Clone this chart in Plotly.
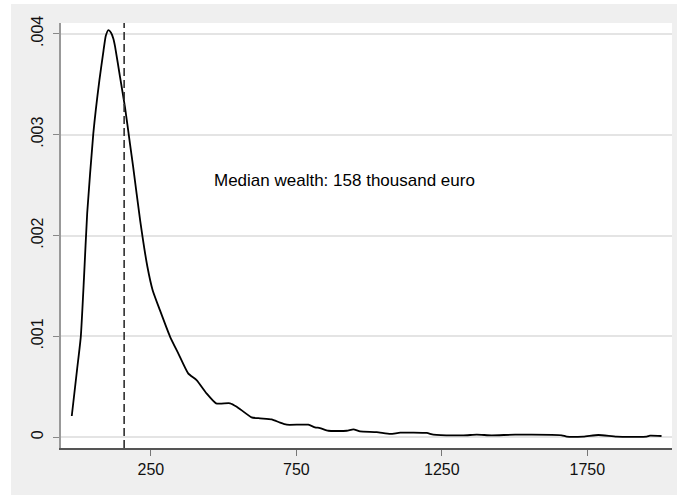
import plotly.graph_objects as go

# Kernel density of net wealth (thousand euro)
wealth = [-22, -4, 9, 20, 31, 52, 73, 87, 95, 104, 113, 121, 127, 144, 161, 178, 189,
          213, 238, 256, 281, 316, 344, 378, 407, 441, 474, 522, 545, 596, 625,
          665, 694, 717, 791, 814, 831, 860, 923, 946, 969, 1026, 1073, 1107,
          1198, 1221, 1324, 1370, 1421, 1502, 1662, 1679, 1736, 1788, 1851,
          1954, 1965, 2005]
density = [0.000211, 0.000666, 0.000996, 0.00158, 0.00222, 0.00301, 0.00354,
           0.00383, 0.00398, 0.004036, 0.00401, 0.00395, 0.00387, 0.00357, 0.00327,
           0.00291, 0.00268, 0.00215, 0.00169, 0.001458, 0.00126, 0.000996,
           0.000832, 0.000634, 0.000567, 0.000436, 0.000337, 0.000337,
           0.000303, 0.000198, 0.000188, 0.000178, 0.000145, 0.000125,
           0.000125, 0.000099, 0.000092, 0.000065, 0.000065, 0.000079,
           0.000059, 0.000052, 0.000033, 0.000046, 0.000043, 0.000026,
           0.00002, 0.000026, 0.00002, 0.000026, 0.00002, 0.000007, 0.000007,
           0.000023, 0.000007, 0.000007, 0.000016, 0.000013]

median_wealth = 158
annotation_text = "Median wealth: 158 thousand euro"

x_tickvals = [250, 750, 1250, 1750]
x_ticktext = ["250", "750", "1250", "1750"]
y_tickvals = [0, 0.001, 0.002, 0.003, 0.004]
y_ticktext = ["0", ".001", ".002", ".003", ".004"]

fig = go.Figure()
fig.add_trace(go.Scatter(
    x=wealth, y=density, mode="lines",
    line=dict(color="#000000", width=1.8, shape="spline", smoothing=0.5),
    showlegend=False, hoverinfo="skip"))

# dashed median line
fig.add_shape(type="line", xref="x", yref="paper", x0=median_wealth, x1=median_wealth,
              y0=0, y1=1, line=dict(color="#2e2e2e", width=1.6, dash="8px,4px"))

fig.add_annotation(x=461, y=0.002548, xref="x", yref="y", text=annotation_text,
                   showarrow=False, xanchor="left", yanchor="middle",
                   font=dict(family="Liberation Sans, Arial", size=17, color="#000000"))

# white strips at the left and top edges of the picture
fig.add_shape(type="rect", xref="paper", yref="paper", x0=-61/611, x1=-50/611,
              y0=-1, y1=2, fillcolor="white", line=dict(width=0), layer="below")
fig.add_shape(type="rect", xref="paper", yref="paper", x0=-1, x1=2,
              y0=1 + 19/425, y1=1 + 30/425, fillcolor="white", line=dict(width=0), layer="below")

fig.update_layout(
    width=677, height=495,
    margin=dict(l=61, r=5, t=23, b=47),
    paper_bgcolor="#efefef", plot_bgcolor="white",
    font=dict(family="Liberation Sans, Arial", size=16, color="#111111"),
    xaxis=dict(range=[-59, 2041], tickvals=x_tickvals, ticktext=x_ticktext,
               showgrid=False, zeroline=False, showline=True, linecolor="#555555",
               linewidth=1.5, ticks="outside", ticklen=6, tickcolor="#777777",
               tickwidth=1.2, tickfont=dict(size=16)),
    yaxis=dict(range=[-0.000106, 0.004106], tickvals=y_tickvals, ticktext=y_ticktext,
               showgrid=True, gridcolor="#e4e4e4", gridwidth=1.5, zeroline=False,
               showline=True, linecolor="#999999", linewidth=1.5, ticks="outside",
               ticklen=6, tickcolor="#888888", tickwidth=1.2, tickangle=-90,
               tickfont=dict(size=16), ticklabelstandoff=4),
)

fig.write_html("out.html")
